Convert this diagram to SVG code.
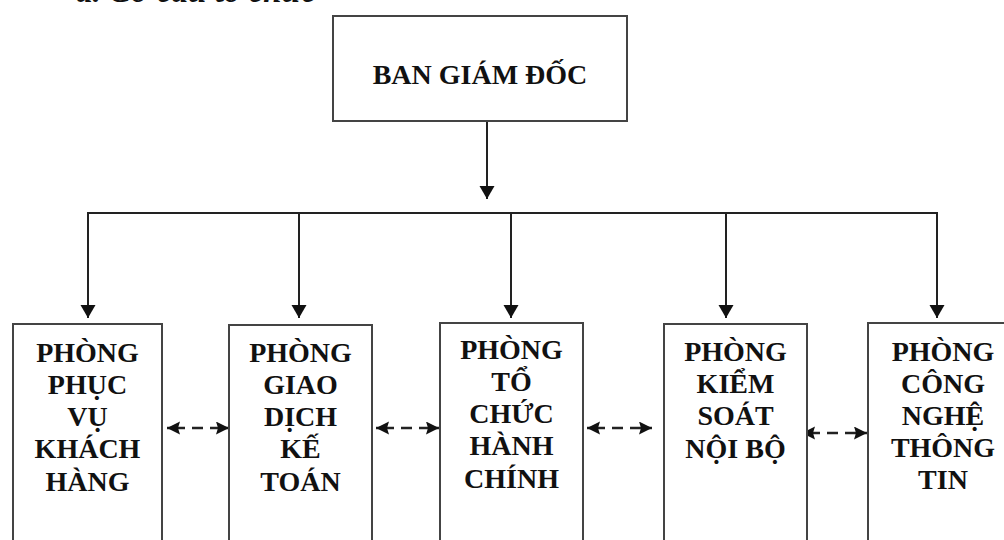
<svg xmlns="http://www.w3.org/2000/svg" width="1004" height="540" viewBox="0 0 1004 540">
<style>
.box{fill:#fff;stroke:#444;stroke-width:2}
.t{font-family:"Liberation Serif","Times New Roman",serif;font-weight:bold;font-size:28px;fill:#111;text-anchor:middle}
.ln{fill:none;stroke:#222;stroke-width:2}
.dl{fill:none;stroke:#222;stroke-width:2.5;stroke-dasharray:18 7 11 7 60}
</style>
<defs>
<marker id="ah" markerUnits="userSpaceOnUse" markerWidth="16" markerHeight="16" refX="13" refY="7.5" orient="auto">
<path d="M0,0 L13,7.5 L0,15 Z" fill="#111"/>
</marker>
<marker id="dh" markerUnits="userSpaceOnUse" markerWidth="16" markerHeight="16" refX="13" refY="6.5" orient="auto-start-reverse">
<path d="M0,0 L13,6.5 L0,13 L2,6.5 Z" fill="#111"/>
</marker>
</defs>
<rect width="1004" height="540" fill="#fff"/>
<text x="76" y="2" style="font-family:'Liberation Serif','Times New Roman',serif;font-weight:bold;font-style:italic;font-size:33px;fill:#111">a. Cơ cấu tổ chức</text>
<g id="connectors">
<line class="ln" x1="487" y1="121" x2="487" y2="199" marker-end="url(#ah)"/>
<line class="ln" x1="88" y1="213" x2="937" y2="213"/>
<line class="ln" x1="88" y1="212" x2="88" y2="318" marker-end="url(#ah)"/>
<line class="ln" x1="299" y1="213" x2="299" y2="318" marker-end="url(#ah)"/>
<line class="ln" x1="511" y1="213" x2="511" y2="318" marker-end="url(#ah)"/>
<line class="ln" x1="726" y1="213" x2="726" y2="318" marker-end="url(#ah)"/>
<line class="ln" x1="937" y1="212" x2="937" y2="318" marker-end="url(#ah)"/>
<line class="dl" x1="167" y1="428" x2="229" y2="428" marker-start="url(#dh)" marker-end="url(#dh)"/>
<line class="dl" x1="376" y1="428" x2="439" y2="428" marker-start="url(#dh)" marker-end="url(#dh)"/>
<line class="dl" x1="587" y1="428" x2="652" y2="428" marker-start="url(#dh)" marker-end="url(#dh)"/>
<line class="dl" x1="802" y1="433" x2="867" y2="433" marker-start="url(#dh)" marker-end="url(#dh)"/>
</g>
<g id="ban-giam-doc">
<rect class="box" x="333" y="16" width="294" height="105"/>
<text class="t" x="480" y="84">BAN GIÁM ĐỐC</text>
</g>
<g id="phong-phuc-vu">
<rect class="box" x="13" y="324" width="149" height="240"/>
<text class="t" x="87.5"><tspan x="87.5" y="362">PHÒNG</tspan><tspan x="87.5" y="394">PHỤC</tspan><tspan x="87.5" y="426">VỤ</tspan><tspan x="87.5" y="458">KHÁCH</tspan><tspan x="87.5" y="491">HÀNG</tspan></text>
</g>
<g id="phong-giao-dich">
<rect class="box" x="229" y="325" width="143" height="240"/>
<text class="t" x="300.5"><tspan x="300.5" y="362">PHÒNG</tspan><tspan x="300.5" y="394">GIAO</tspan><tspan x="300.5" y="426">DỊCH</tspan><tspan x="300.5" y="458">KẾ</tspan><tspan x="300.5" y="491">TOÁN</tspan></text>
</g>
<g id="phong-to-chuc">
<rect class="box" x="440" y="323" width="143" height="240"/>
<text class="t" x="511.5"><tspan x="511.5" y="359">PHÒNG</tspan><tspan x="511.5" y="391">TỔ</tspan><tspan x="511.5" y="423">CHỨC</tspan><tspan x="511.5" y="455">HÀNH</tspan><tspan x="511.5" y="488">CHÍNH</tspan></text>
</g>
<g id="phong-kiem-soat">
<rect class="box" x="664" y="324" width="143" height="240"/>
<text class="t" x="735.5"><tspan x="735.5" y="361">PHÒNG</tspan><tspan x="735.5" y="393">KIỂM</tspan><tspan x="735.5" y="425">SOÁT</tspan><tspan x="735.5" y="458">NỘI BỘ</tspan></text>
</g>
<g id="phong-cong-nghe">
<rect class="box" x="868" y="323" width="150" height="240"/>
<text class="t" x="943"><tspan x="943" y="361">PHÒNG</tspan><tspan x="943" y="393">CÔNG</tspan><tspan x="943" y="425">NGHỆ</tspan><tspan x="943" y="457">THÔNG</tspan><tspan x="943" y="489">TIN</tspan></text>
</g>
</svg>
